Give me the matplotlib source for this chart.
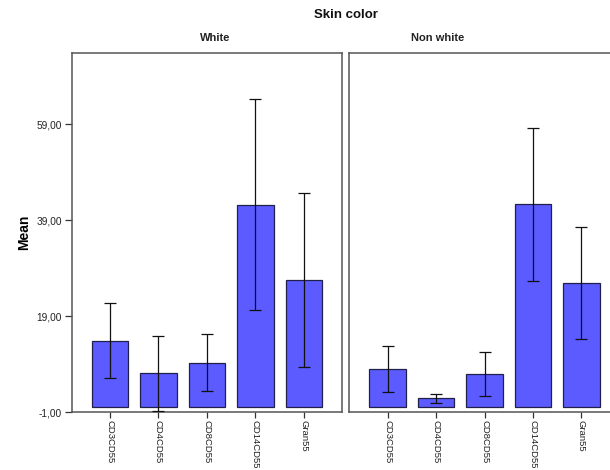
import matplotlib
matplotlib.use("Agg")
import matplotlib.pyplot as plt

plt.rcParams['font.family'] = ['Liberation Sans', 'DejaVu Sans']

categories = ["CD3CD55", "CD4CD55", "CD8CD55", "CD14CD55", "Gran55"]
groups = ["White", "Non white"]
white_mean = [13.9, 7.1, 9.3, 42.2, 26.6]
white_err = [7.8, 7.8, 5.9, 22.0, 18.1]
nonwhite_mean = [8.0, 1.9, 6.95, 42.3, 25.9]
nonwhite_err = [4.7, 1.0, 4.5, 15.9, 11.6]
yticks = [-1, 19, 39, 59]
ytick_labels = ["-1,00", "19,00", "39,00", "59,00"]

bar_color = "#5b5bff"
edge_color = "#20204a"
frame_color = "#555555"

fig = plt.figure(figsize=(6.1, 4.7), dpi=100)
ax1 = fig.add_axes([0.1175, 0.1228, 0.4426, 0.7644])
ax2 = fig.add_axes([0.5726, 0.1228, 0.4426, 0.7644])

x = list(range(len(categories)))
for ax, means, errs, title in [(ax1, white_mean, white_err, groups[0]),
                               (ax2, nonwhite_mean, nonwhite_err, groups[1])]:
    ax.bar(x, means, width=0.75, color=bar_color, edgecolor=edge_color,
           linewidth=0.9, zorder=2)
    ax.errorbar(x, means, yerr=errs, fmt='none', ecolor='#111111',
                elinewidth=0.9, capsize=4.3, capthick=0.9, zorder=3)
    ax.set_xlim(-0.79, 4.78)
    ax.set_ylim(-1, 73.8)
    ax.set_xticks(x)
    ax.set_xticklabels(categories, rotation=-90, fontsize=6.8, color='#222222')
    ax.tick_params(axis='x', direction='out', length=4, width=0.9,
                   color='#333333', pad=1.5)
    for s in ax.spines.values():
        s.set_color(frame_color)
        s.set_linewidth(1.1)

ax1.set_yticks(yticks)
ax1.set_yticklabels(ytick_labels, fontsize=7.3, color='#222222')
ax1.tick_params(axis='y', direction='out', length=5, width=0.9,
                color='#333333', pad=2)
ax1.set_ylabel("Mean", fontsize=10, fontweight='bold', labelpad=4)
ax2.set_yticks([])

fig.text(346 / 610, 1 - 15 / 470, "Skin color", ha='center', va='center',
         fontsize=9.5, fontweight='bold', color='#111111')
fig.text(215 / 610, 1 - 38 / 470, groups[0], ha='center', va='center',
         fontsize=8, fontweight='bold', color='#222222')
fig.text(438 / 610, 1 - 38 / 470, groups[1], ha='center', va='center',
         fontsize=8, fontweight='bold', color='#222222')

fig.savefig("out.png", dpi=100)
